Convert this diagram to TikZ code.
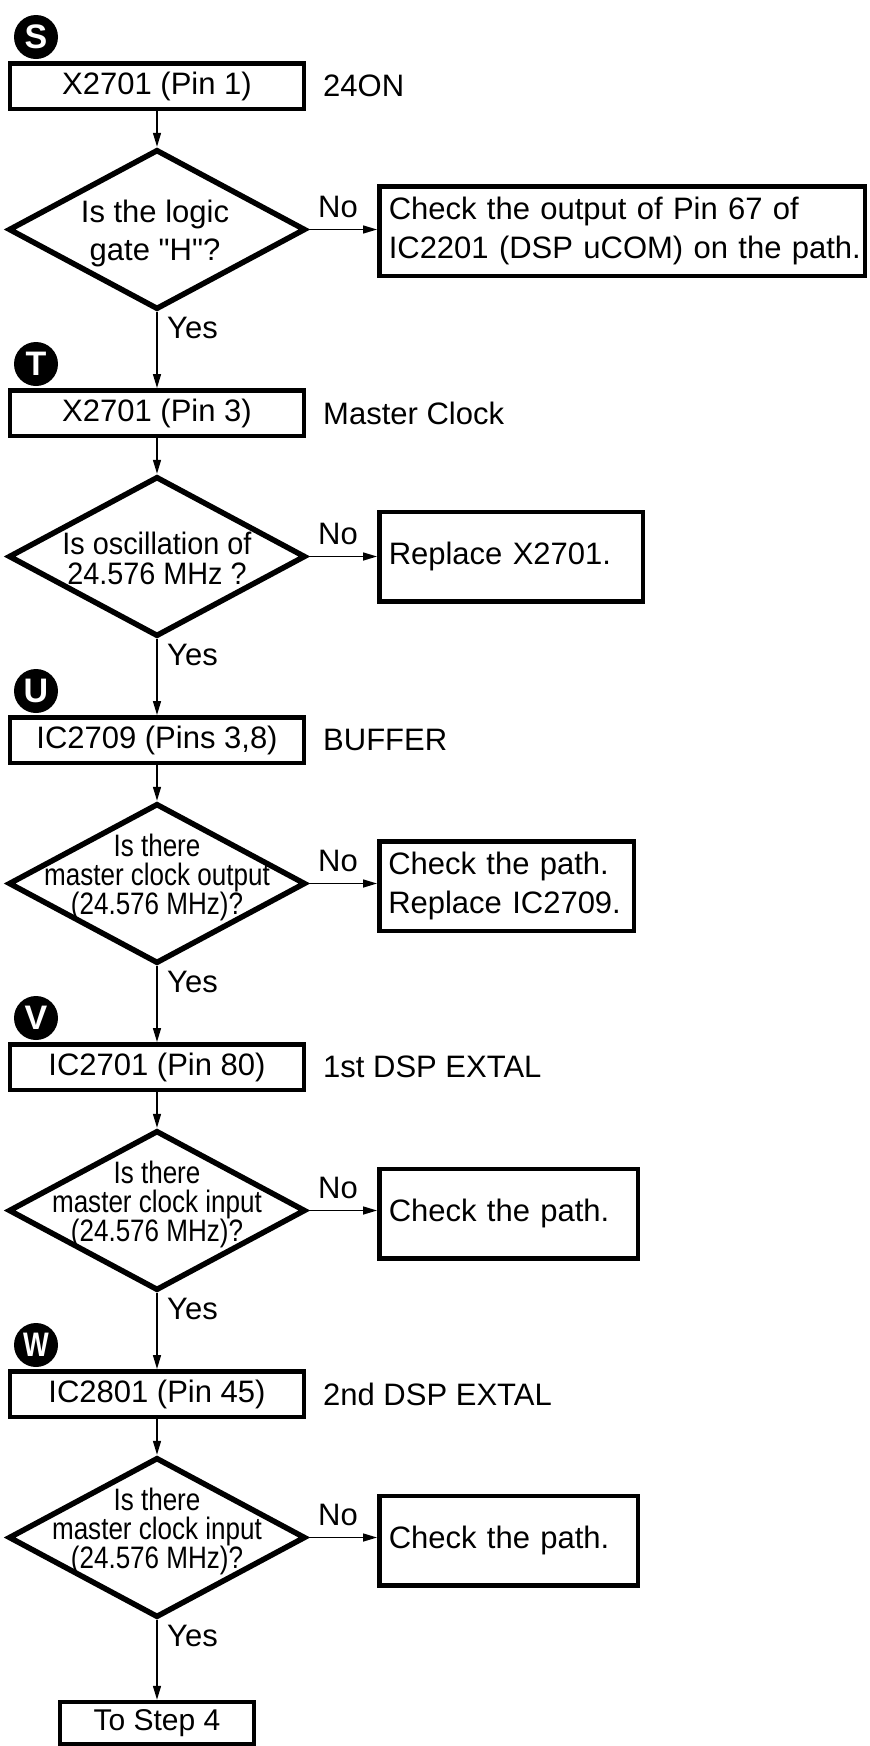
\documentclass[tikz,border=0pt]{standalone}
\usepackage{fontspec}
\usepackage{graphicx}
\setmainfont{Liberation Sans}[Ligatures=TeXOff]
\newfontfamily\narrowfont[FakeStretch=0.84]{Liberation Sans}
\newfontfamily\semifont[FakeStretch=0.93]{Liberation Sans}
\usetikzlibrary{shapes.geometric, arrows.meta}
\begin{document}
\begin{tikzpicture}[x=1pt,y=-1pt,
  txt/.style={font=\fontsize{31}{38}\selectfont},
  badge/.style={circle, fill=black, draw=none, minimum size=44pt, inner sep=0pt, text=white, font=\fontsize{34}{34}\selectfont\bfseries},
  stepbox/.style={draw, line width=4.5pt, minimum width=294pt, minimum height=45.5pt, inner sep=0pt, txt},
  sidelbl/.style={anchor=west, inner sep=0pt, txt},
  dia/.style={diamond, draw, line width=5.5pt, minimum width=297pt, minimum height=160pt, inner sep=0pt},
  dtext/.style={align=center, inner sep=0pt},
  checkbox/.style={draw, line width=4.5pt, anchor=west, inner xsep=9.5pt, inner ysep=0pt, minimum height=89.5pt, align=left, text width=#1, font=\fontsize{31}{39}\selectfont},
  lbl/.style={anchor=west, inner sep=0pt, txt},
  arr/.style={line width=1.5pt, -{Triangle[length=14pt,width=8pt]}}
]
\useasboundingbox (0,0) rectangle (870,1746);

% ---- Section S
\node[badge] (sS) at (36,37) {S};
\node[stepbox] (b0) at (157,86) {X2701 (Pin 1)};
\node[sidelbl] (l0) at (323,86) {24ON};
\node[dia] (d0) at (157,229.5) {};
\node[dtext, font=\fontsize{31}{38}\selectfont] (q0) at (155,233) {Is the logic\\gate "H"?};
\node[checkbox=466.5pt] (c0) at (377,231) {\mbox{Check the output of Pin 67 of}\\\mbox{IC2201 (DSP uCOM) on the path.}};
\node[lbl] (n0) at (318,207) {No};
\node[lbl] (y0) at (167,328) {Yes};

% ---- Section T
\node[badge] (sT) at (36,364) {T};
\node[stepbox] (b1) at (157,413) {X2701 (Pin 3)};
\node[sidelbl] (l1) at (323,413) {Master Clock};
\node[dia] (d1) at (157,556.5) {};
\node[dtext, font=\semifont\fontsize{31}{30}\selectfont] (q1) at (157,558) {Is oscillation of\\24.576 MHz ?};
\node[checkbox=244.5pt] (c1) at (377,556.5) {\mbox{Replace X2701.}};
\node[lbl] (n1) at (318,534) {No};
\node[lbl] (y1) at (167,655) {Yes};

% ---- Section U
\node[badge] (sU) at (36,691) {U};
\node[stepbox] (b2) at (157,740) {IC2709 (Pins 3,8)};
\node[sidelbl] (l2) at (323,740) {BUFFER};
\node[dia] (d2) at (157,883.5) {};
\node[dtext, font=\narrowfont\fontsize{31}{29}\selectfont] (q2) at (157,877) {Is there\\master clock output\\(24.576 MHz)?};
\node[checkbox=236.5pt, inner xsep=9pt] (c2) at (377,886) {\mbox{Check the path.}\\\mbox{Replace IC2709.}};
\node[lbl] (n2) at (318,861) {No};
\node[lbl] (y2) at (167,982) {Yes};

% ---- Section V
\node[badge] (sV) at (36,1018) {V};
\node[stepbox] (b3) at (157,1067) {IC2701 (Pin 80)};
\node[sidelbl] (l3) at (323,1067) {1st DSP EXTAL};
\node[dia] (d3) at (157,1210.5) {};
\node[dtext, font=\narrowfont\fontsize{31}{29}\selectfont] (q3) at (157,1204) {Is there\\master clock input\\(24.576 MHz)?};
\node[checkbox=239.5pt] (c3) at (377,1213.5) {\mbox{Check the path.}};
\node[lbl] (n3) at (318,1188) {No};
\node[lbl] (y3) at (167,1309) {Yes};

% ---- Section W
\node[badge] (sW) at (36,1345) {\scalebox{0.8}[1]{W}};
\node[stepbox] (b4) at (157,1394) {IC2801 (Pin 45)};
\node[sidelbl] (l4) at (323,1394) {2nd DSP EXTAL};
\node[dia] (d4) at (157,1537.5) {};
\node[dtext, font=\narrowfont\fontsize{31}{29}\selectfont] (q4) at (157,1531) {Is there\\master clock input\\(24.576 MHz)?};
\node[checkbox=239.5pt] (c4) at (377,1540.5) {\mbox{Check the path.}};
\node[lbl] (n4) at (318,1515) {No};
\node[lbl] (y4) at (167,1636) {Yes};

% ---- End
\node[stepbox, minimum width=194pt, minimum height=42pt, font=\fontsize{30}{36}\selectfont] (end) at (157,1723) {To Step 4};

% ---- Connectors
\foreach \i/\j in {0/1,1/2,2/3,3/4} {
  \draw[arr] (b\i.south) -- (d\i.north);
  \draw[arr] (d\i.south) -- (b\j.north);
  \draw[arr] (d\i.east) -- (d\i.east -| c\i.west);
}
\draw[arr] (b4.south) -- (d4.north);
\draw[arr] (d4.east) -- (d4.east -| c4.west);
\draw[arr] (d4.south) -- (end.north);
\end{tikzpicture}
\end{document}
